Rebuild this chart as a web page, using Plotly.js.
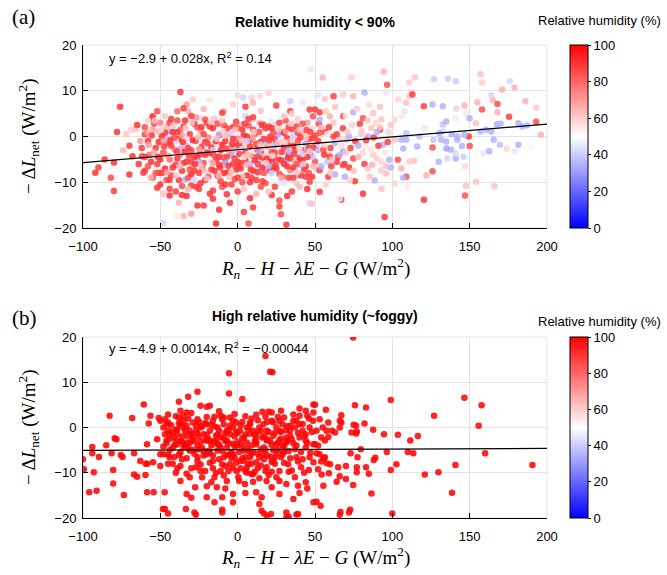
<!DOCTYPE html>
<html><head><meta charset="utf-8">
<script src="https://cdn.plot.ly/plotly-3.0.1.min.js"></script>
<style>html,body{margin:0;padding:0;background:#fff}#chart{width:667px;height:575px}</style>
</head><body><div id="chart"></div>
<script>
// ---------------- data ----------------
const xTicks = [-100, -50, 0, 50, 100, 150, 200];
const yTicks = [-20, -10, 0, 10, 20];
const rhTicks = [0, 20, 40, 60, 80, 100];
const fitA = [-2.9, 0.028];   // intercept, slope
const fitB = [-4.9, 0.0014];
const fitRange = [-100, 200];
const rhFoggy = 99;

// panel (a): [x, y, relative humidity]
const aSparse = [
[-76,6.5,90],[-37,9.7,90],[-78,1,90],[-92,-7.9,90],[-80,-11.9,88],[-82,-9,85],[-90,-6.8,88],[-80,-5.7,90],[-70,-8.3,90],[-61,-7.9,88],
[-55,4.4,90],[-68,-4.3,90],[-62,-4.3,85],[-69,1.5,60],[-66,1.6,62],[-51,-7.9,90],[-55,-9,90],[-44,-12.9,90],[-44,-11.4,88],[-36,-10.8,85],
[-30,-10.7,88],[-26,-15.1,90],[-22,-15.1,88],[-14,-19,92],[-39,-17.4,55],[-35,-17.4,65],[-30,-16.9,70],[-16,-13.6,90],[-7,-12.6,90],[4,-16.5,88],
[7,-19,85],[31.5,-19.3,90],[46.5,-14.6,42],[27,-15.3,88],[27,-14,85],[-48,-18.9,42],[-55,4,88],[-39,5.5,80],[-32,5.5,65],[-25,4,60],
[-21,3.7,85],[-33,7,70],[-29,8.1,60],[-9,5.5,65],[3.6,8.5,42],[9,8.5,60],[14.4,8.8,58],[10,7.4,65],[22,3.3,45],[34,7.7,40],
[34,5.5,88],[46.5,5.9,88],[47.6,14.7,55],[52,9.2,45],[39,3.7,40],[48.7,4.4,85],[10,3.7,42],[2.6,2.6,65],[-7,0.4,35],[-4,-4,32],
[-12.5,-4.4,30],[-34,-9.4,35],[-37,-2.6,35],[-44,1.1,35],[-51,1.1,65],[17.6,-7,35],[16,-5.1,38],[13,-7,42],[23,-5.5,35],[27,-3.7,32],
[31.5,-5.1,30],[39,-8.5,35],[40,-11,65],[46.5,-9.9,88],[51,-1.8,40],[27,-10.3,45],
[-72,0.5,62],[-70,-2,88],[-65,2.5,90],[-63,-1,70],[-60,0.5,88],[-58,-6.5,85],[-64,-6,90],[-86,-5,90],[-74,-3,65]
];
const aCore = [
[-60,2,85],[-58,-1,90],[-57,-4,80],[-55,1.5,70],[-53,-2.5,90],[-52,-6,88],[-50,3,75],[-49,0,90],[-48,-3.5,85],[-47,-7,92],
[-46,2,65],[-45,-1.5,88],[-44,-5,80],[-43,-8.5,90],[-42,1,90],[-41,-2.8,70],[-40,-6.2,88],[-39,3.5,85],[-38,-0.5,92],[-37,-4,75],
[-36,-7.5,90],[-35,2.2,88],[-34,-1.8,65],[-33,-5.5,90],[-32,-9,85],[-31,0.5,90],[-30,-3,88],[-29,-6.8,72],[-28,2.8,90],[-27,-1,85],
[-26,-4.5,92],[-25,-8,88],[-24,1.2,68],[-23,-2.2,90],[-22,-5.8,85],[-21,-9.5,90],[-20,3,88],[-19,-0.2,75],[-18,-3.6,90],[-17,-7.2,88],
[-16,1.8,90],[-15,-1.6,62],[-14,-5,90],[-13,-8.6,85],[-12,0.3,88],[-11,-3,90],[-10,-6.4,70],[-9,2.5,85],[-8,-1,90],[-7,-4.4,88],
[-6,-7.8,90],[-5,0.8,65],[-4,-2.5,88],[-3,-6,90],[-2,-9.3,85],[-1,3.2,88],[0,-0.5,75],[1,-3.8,90],[2,-7,88],[3,1.5,90],
[4,-2,60],[5,-5.2,88],[6,-8.5,90],[7,2.4,85],[8,-0.8,88],[9,-4.2,72],[10,-7.5,90],[11,0.6,90],[12,-2.8,85],[13,-6,88],
[14,3,65],[15,-1.2,90],[16,-4.6,88],[17,-8,85],[18,1.8,90],[19,-2.2,70],[20,-5.6,90],[21,0,88],[22,-3.4,85],[23,-6.8,90],
[24,2.6,60],[25,-1.4,88],[26,-4.8,90],[27,-8.2,85],[28,1,88],[29,-2.6,65],[30,-6,90],[31,3.5,85],[32,-0.4,90],[33,-4,88],
[34,-7.4,75],[35,1.6,88],[36,-2,90],[37,-5.4,62],[38,2.2,88],[39,-1,85],[40,-4.6,90],[41,-8.5,88],[42,0.5,65],[43,-3,88],
[44,-6.5,90],[45,3,70],[46,-0.6,88],[47,-4,85],[48,1.8,58],[49,-2.4,90],[50,-5.5,85],
[-58,3.5,60],[-54,-3.5,68],[-50,-5,90],[-46,-9.5,85],[-43,3.8,88],[-40,-1,60],[-37,1.5,80],[-34,-3.2,90],[-30,-8.2,92],[-27,4.2,70],
[-24,-3.8,88],[-21,-1.2,92],[-18,-5,55],[-15,3.8,90],[-12,-4.5,88],[-9,-8,92],[-6,-2.8,60],[-3,2,90],[0,-5.5,88],[3,-8.8,65],
[6,0,90],[9,-3,55],[12,-9.5,88],[15,2.5,90],[18,-4,58],[21,-7.5,90],[24,-0.5,88],[27,-3.8,55],[30,0.8,92],[33,-9,88],
[36,-6.8,90],[39,3.8,58],[42,-5,88],[45,-2.5,60],[48,-8.8,90],
[-45,-0.5,38],[-33,-2,40],[-25,-5.5,35],[-20,-1.8,42],[-12,0.5,35],[-8,-5.5,30],[-4,1,42],[2,-2.5,38],[8,-6,35],[12,2,45],
[18,-1,35],[22,-8,40],[26,0.5,32],[32,-2.8,35],[36,0.2,40],[40,-6.2,35],[44,-1.5,35],[48,-4.5,38],[-15,4,45],[5,4.5,42],
[-28,-9.5,42],[30,-10,45],
[-52,5.5,85],[-47,4.5,62],[-35,6.2,88],[-22,6,65],[-10,5.2,88],[-3,7,60],[5,6.5,88],[15,5.6,62],[25,6.8,88],[35,5,60],
[-18,8,55],[0,9,58],[20,9.5,60],[42,7.5,45],
[-50,-10.5,90],[-40,-12,88],[-33,-13,92],[-25,-11.5,88],[-18,-12.5,90],[-10,-11,85],[-5,-14.5,90],[0,-12,88],[8,-13.5,90],[15,-11,85],
[22,-12.8,90],[35,-12,88],[45,-11.5,90],[-38,-14.5,65],[-12,-16,90],[10,-15.5,88],[28,-17,85]
];
const aCoreDense = [
[-62,-2.5,88],[-59,0.8,75],[-56,-5.5,90],[-54,2.8,85],[-51,-1.2,92],[-49,-8,88],[-47,0.8,90],[-45,-4.2,72],[-44,3,88],[-42,-6.8,90],
[-41,-0.2,85],[-39,-4.8,90],[-38,-9.5,88],[-36,0.2,70],[-35,-5.8,88],[-34,3.5,90],[-32,-2.5,88],[-31,-7.2,85],[-29,-0.8,92],[-28,-4.4,90],
[-27,-11,88],[-26,2,85],[-25,-2.8,72],[-23,-7,90],[-22,0.5,88],[-21,-4,90],[-19,-8.8,85],[-18,2.2,90],[-17,-2.4,88],[-16,-5.8,70],
[-14,-1,90],[-13,2.8,85],[-12,-6.2,90],[-11,-9.8,88],[-10,-1.8,92],[-9,-4.6,85],[-7,1.8,88],[-6,-6.4,90],[-5,-3.2,72],[-4,-10.5,88],
[-3,-0.5,90],[-2,-4.8,88],[-1,-7.2,90],[0,1.8,85],[1,-1.5,90],[2,-5.8,88],[3,-10,85],[4,0.2,92],[5,-3.5,90],[6,-6.2,65],
[7,3.8,88],[8,-2.2,90],[9,-9,88],[10,-0.3,70],[11,-5.2,90],[12,-1.6,88],[13,-7.8,90],[14,1,85],[15,-3.2,92],[16,-6.8,90],
[17,-0.5,88],[18,-10.2,85],[19,-4.8,90],[20,2.2,88],[21,-2,62],[22,-5,90],[23,0.8,85],[24,-3.5,88],[25,-7,90],[26,-1.2,65],
[27,3,88],[28,-5.2,90],[29,-8.8,85],[30,-2.2,88],[31,1.2,70],[32,-6.5,90],[33,-1.8,85],[34,-4.8,88],[35,-0.8,62],[36,-9,88],
[37,-3,90],[38,-6,85],[39,0.8,88],[40,-2.8,60],[41,-5,90],[42,2.8,85],[43,-7.2,88],[44,-0.2,62],[45,-4.5,90],[46,-8,85],
[47,1,88],[49,-6.5,65],[50,0.2,88],[-60,-4.5,90],[-57,1,62],[-53,-8,85],[-48,-1,70],[-43,-2,88],[-39,1,90],[-33,-0.5,58],
[-30,-5.5,88],[-24,-6.5,62],[-20,-3.5,88],[-15,-7.5,90],[-8,0.2,62],[-1,-2,88],[4,-4.5,58],[10,1.5,88],[16,-2.5,60],[22,1.8,90],
[28,-0.8,58],[33,2,88],[40,1.5,62],[46,-2.5,88],
[-2,-3,38],[14,-3.5,35],[24,-2,38],[34,-3.5,35],[42,-3.8,40],[52,-3,35],[58,-5.5,38],[20,-6.5,35],[6,-1,40],[-16,-3,40]
];
const aCoreFill = [
[-57.5,-1.8,70],[-55.5,0.2,88],[-53.5,3.5,62],[-51.5,-4.5,90],[-49.5,1.5,60],[-47.5,-2.2,88],[-45.5,-7.8,70],[-43.5,-0.8,90],[-41.5,2.4,62],[-39.5,-3.2,88],
[-37.5,-6.5,65],[-35.5,-1.2,90],[-33.5,1.8,60],[-31.5,-4.2,88],[-29.5,3,62],[-27.5,-6,90],[-25.5,-0.2,65],[-23.5,2,90],[-21.5,-7.5,62],[-19.5,-1.5,88],
[-17.5,3.2,60],[-15.5,-4,88],[-13.5,-0.5,62],[-11.5,-6.8,90],[-9.5,1.2,60],[-7.5,-2.6,88],[-5.5,-8.8,62],[-3.5,-1.6,90],[-1.5,1.5,62],[0.5,-6.5,88],
[2.5,-0.8,62],[4.5,2.8,88],[6.5,-3.8,62],[8.5,-7.2,88],[10.5,1,60],[12.5,-4.4,88],[14.5,-1.8,62],[16.5,2.6,88],[18.5,-5.8,62],[20.5,-0.8,88],
[22.5,-4.2,60],[24.5,-6.2,88],[26.5,1.6,62],[28.5,-3.4,88],[30.5,-1.2,60],[32.5,-4.6,88],[34.5,2.8,62],[36.5,-3.8,88],[38.5,-7.8,62],[40.5,-0.2,88],
[42.5,-6,62],[44.5,1.4,88],[46.5,-3.2,60],[48.5,-0.4,88],[50.5,-7,62],[52.5,2.8,88],[54.5,-2.8,60],[56.5,1,88],[58.5,-4,62],[60.5,-6.5,88],
[-60,-7.5,88],[-56,-9,65],[-52,-11.2,90],[-48,-12.5,62],[-44,-9.5,88],[-40,-8.5,62],[-36,-12.8,90],[-32,-11.5,65],[-28,-7.5,88],[-24,-10.2,90],
[-20,-9.2,62],[-16,-11.8,88],[-12,-8.5,65],[-8,-10.5,90],[-4,-7.8,62],[0,-9,88],[4,-11.5,62],[8,-10,90],[12,-12.5,65],[16,-9.8,88],
[20,-12,62],[24,-11,88],[28,-9,65],[32,-13,90],[38,-10.2,62],[44,-8.8,88],[-30,4.5,88],[-10,3.5,62],[10,4.2,88],[30,4.5,62]
];
const aMid = [
[55,12.9,65],[73.6,12.9,60],[94.4,14.2,65],[96.6,11.3,85],[82,9.6,35],[74.7,8.8,65],[68.2,9.2,60],[62,8.8,88],[56.4,8.2,62],[51,8.8,45],
[74.7,5.3,35],[68.2,4.4,85],[81,4,85],[93,3.7,62],[87.6,5.1,62],[53,5.3,88],[59.7,4.4,65],[50,5.9,88],[53,3.7,35],[62,0,88],
[55.4,-2.9,85],[59.7,-4.4,88],[65,-4.4,88],[68,-6.3,85],[62.9,-1.5,35],[70.4,-0.7,62],[77,-1.5,62],[82,-2.2,55],[84.3,0,35],[86.5,1.8,62],
[80,0.7,62],[53,-7.4,88],[58.6,-8.8,88],[53,-12.1,90],[48,-14.7,62],[67,-13.8,88],[66,-13.6,45],[92,1.5,88],[97,1.1,45],[96,9.6,45],
[98,-5.1,35],[88.6,-9.6,35],[85.4,-8.8,62],[81,-12.5,90],[75.8,-9.8,88],[72.5,-9.6,60],[69.3,-8.8,35],[62.9,-8.3,35],[68.2,-3.3,32],[74.7,-4.8,85],
[87.6,-4,60],[99,-6.8,35],[96,-8.1,62],[92.5,-7.4,60],[93,-11.4,62],[95,-17.6,90],
[52,-1,88],[54,2,65],[56,-4,90],[58,0.5,55],[60,-2.5,88],[62,3,62],[64,-5.5,90],[66,-0.5,60],[68,1.8,88],[70,-3.5,62],
[72,-6.8,88],[74,2.5,58],[76,-1,88],[78,-4.5,65],[80,1.2,60],[82,-6,88],[84,3.5,62],[86,-2.8,55],[88,-0.2,88],[90,-4.8,60],
[92,2,62],[94,-1.8,35],[96,-6.5,62],[98,0.8,58],[54,-6.5,35],[60,-8,62],[66,-4,35],[72,0,35],[78,-2,35],[84,-7,62],
[90,1,35],[95,-3.5,55],[57,5.5,60],[63,6.5,62],[70,4.5,55],[77,6,60],[85,7,58],[92,6.5,62],
[53,0.8,85],[56,-1.8,60],[59,2,88],[61,-5,62],[64,0.5,88],[67,-2,58],[69,-6,88],[71,1,62],[73,-2.5,88],[75,-7.5,62],
[79,2.8,88],[81,-3.5,58],[83,-0.8,88],[87,-6.2,65],[89,3,58],[91,-2,88],[93,-5.5,58],[97,-1.2,88],[99,2.5,62],[57,-10.5,60]
];
const aRight = [
[111,11.8,60],[114.6,12.9,62],[112,9.6,60],[127,12.5,40],[136,12.6,40],[141,12.1,40],[144,13.8,50],[157,13.6,62],[158,11.8,60],[152,10.3,52],
[154,10.3,50],[176,12.1,42],[179,10.7,65],[171,10.3,65],[164,9,42],[165,7.9,65],[168,7.1,85],[186,7.7,65],[193,6.3,60],[175.5,4.3,88],
[168,5.3,65],[158,5.9,85],[155,7.5,65],[146.6,6.8,65],[147.6,4.9,55],[150,4,35],[154,2.9,62],[157,1.1,35],[160.5,1.5,35],[164,1.1,35],
[167.6,2.7,35],[170,2.8,35],[181.5,2.9,35],[184,2.2,35],[187,2.4,35],[193,3.2,85],[196,0.4,65],[189.5,-2.4,48],[181.5,-1.8,35],[179,-3.3,45],
[174,-2.7,58],[169.5,-1.8,38],[165.5,-0.7,35],[162.7,-3.2,35],[158.8,-3.7,45],[166,-10.9,62],[154,-9.9,62],[147.6,-10.8,62],[147,-12.9,85],[150,-2.1,85],
[149.4,0,88],[146.6,0.4,35],[145,-2.1,35],[142,0,35],[141,-4.8,35],[138,-2.9,35],[135,-2.6,32],[134.8,-1.1,35],[131.5,-0.7,35],[132.6,1.1,42],
[132.6,2.6,38],[134.8,3.3,35],[130.5,0.7,35],[126.6,-0.7,38],[126,-2.4,85],[130,-5.5,35],[135.5,-4.8,42],[141,-3.7,42],[126,-7.6,85],[122,-8.5,65],
[120.4,-13.8,90],[111,-5.5,60],[114,-5.3,62],[116,-2.2,35],[117.6,0,38],[120.8,1.8,45],[126,7,35],[132.6,6.6,35],[141.5,6.1,60],[141,4,55],
[147,-6.5,58],[146,-4.4,40],[142,-0.7,35],[138.4,0.5,35],[109,-0.7,35],[105.8,-0.7,35],[109,0.7,38],[101.5,-0.7,62],[107,-2.6,35],[103.6,-5.1,85],
[105.8,-7,65],[109,-8.8,85],[107,-9,35],[101.5,-10.3,58],[101.5,3.7,58],[106,4.4,55],[108,5.5,45],[109,7.4,62],[111,8.8,60],[103.6,8.1,58],
[113,9.2,88],[120.4,6.6,88],[110,-10.8,55]
];

// panel (b): [x, y]
const bLeft = [
[-100,-7.0],[-99.4,-9.2],[-94,-4.3],[-94,-5.7],[-93,-9.9],[-91.2,-14],[-96,-14.3],[-89.7,-6.5],[-85,-3.9],[-82.8,2.6],
[-81.5,-5.7],[-79.5,-2.4],[-78.4,-2.6],[-80.5,-9.4],[-80.5,-12.4],[-75.5,-6.1],[-74.4,-6.5],[-73.6,-14.9],[-68.2,2.1],[-67,-5.7],
[-67,-10.4],[-65,-10.9],[-63,-7.4],[-60.7,5.1],[-59.5,-8],[-58.4,-8],[-58.6,-3.7],[-56.4,2.6],[-57.5,0.9],[-59.6,-10.5],
[-58.6,-14.3],[-54.3,-14.3],[-52.1,-2.6],[-51,2.1],[-50,-8.5],[-50,-5.9],[-54.7,-7.7],[-48.3,-18],[-47.2,-14.3]
];
const bCore = [
[-50,1.5],[-47,1.8],[-45,1.1],[-48,0],[-45,-0.7],[-44,-1.5],[-41,-2.2],[-39,-0.4],[-37,0.7],[-38,2.2],
[-35,1.5],[-33,0.4],[-31,-0.7],[-29,1.1],[-26,1.8],[-24,0],[-22,-1.5],[-20,0.7],[-18,-0.7],[-16,1.5],
[-13,0],[-11,-2.2],[-9,0.7],[-7,-0.7],[-5,-1.5],[-3,0],[-1,1.1],[1.5,-0.7],[4,-2.2],[6,0],
[8,0.7],[10,-0.7],[12,-2.2],[14,0],[16.5,0.7],[18.7,-0.7],[22,1.5],[25,0],[27,-0.7],[29,0.7],
[31.5,-2.2],[33.7,-0.7],[37,0],[40,0.7],[42,-0.7],[44,-1.5],[46.5,0],[48.7,1.5],
[-38,5.7],[-32,6.8],[-26,7.9],[-5.6,7.5],[3,6.3],[-20,4.6],[-24,4.8],[-18,4.8],[16,3.5],[22,3.3],
[28,3.7],[36,1.5],[44,3.7],[49,5.1],[-37,3.7],[-45,2.9],[-33,3.3],[-11,2.6],[-3,1.5],[-9,2.2],
[8,1.1],[23,1.1],[40,2.6],[36,2.9],
[-46,-2.9],[-39,-3.7],[-33,-3.3],[-26,-4],[-20,-2.9],[-13,-3.7],[-7,-2.9],[-0.6,-4],[6,-3.3],[12,-3.7],
[18.7,-2.9],[25,-3.7],[31.5,-3.3],[38,-4],[44,-2.9],[49,-3.7],
[-48,-5.9],[-44,-6.6],[-37,-8.5],[-35,-4.4],[-31,-5.1],[-26,-6.6],[-24,-9.6],[-20,-5.9],[-16,-7.4],[-13,-5.1],
[-11,-9.6],[-9,-6.6],[-7,-4.4],[-5,-8.1],[-3,-5.9],[-0.6,-9.6],[1.5,-7.4],[4,-5.1],[6,-8.8],[8,-6.6],
[10,-10.3],[12,-7.7],[16.5,-5.9],[18.7,-8.8],[23,-7.4],[27,-9.6],[29,-5.9],[32.6,-8.1],[38,-6.6],[41,-8.8],
[46.5,-6.6],[49,-7.7],
[-37,-11.8],[-33,-14.7],[-31,-11],[-27.5,-13.2],[-23,-11],[-20,-15.4],[-17,-12.1],[-13.5,-13.2],[-10,-15.4],[-7,-11.8],
[-3,-14.7],[0.4,-11],[4.7,-12.5],[9,-10.3],[12,-14.3],[15.5,-15.4],[18.7,-11.8],[22,-13.2],[27,-14.7],[31.5,-12.5],
[36,-15.8],[39,-12.9],[44,-12.1],[49,-16.5],[14,-16.9],[31.5,-18.8],
[-47,-18],[-33.5,-18],[-28,-18.8],[-10,-18.2],[-3,-16.5],[15.5,-18.4],[21.5,-19.1],[31.5,-19.9],[39,-19.1],
[-45,-19],[-27,-19.3],[-10,-18.8],[17,-19],[19,-19.5],[33,-19.7],[38,-19.2],
[-42,-1],[-40,-3],[-38,1],[-36,-2],[-34,-4],[-32,2],[-30,-1.5],[-28,-3],[-27,0.5],[-25,-2],
[-23,-4.5],[-21,1],[-19,-2.5],[-17,-4],[-15,0.2],[-14,-1.8],[-12,-3.8],[-10,1.8],[-8,-1.2],[-6,-3.5],
[-4,-5.5],[-2,-2],[0,-3.2],[2,0.5],[3,-4.5],[5,-1.5],[7,-5.2],[9,2],[11,-3],[13,-1],
[15,-4.8],[17,-2],[19,1.2],[21,-3],[23,-5],[24,-1.2],[26,2.3],[28,-2.5],[30,-4.2],[32,0.3],
[34,-1.8],[36,-3.5],[38,1.5],[40,-2.2],[42,0.8],[44,-4.4],[46,2],[48,-1],
[-46,-3.5],[-44,-5],[-41,-6.5],[-37,-5.5],[-33,-6.8],[-29,-5],[-26,-7.5],[-22,-6.2],[-18,-5.5],[-16,-9],
[-12,-7],[-8,-8.5],[-5,-6],[-1,-7.8],[3,-6.8],[6,-10],[9,-5.8],[13,-9],[17,-7],[20,-10.5],
[24,-8],[28,-6.5],[35,-9.5],[39,-7.5],[43,-10]
];
const bCoreDense = [
[-43,0.5],[-41,-4],[-39,-1.5],[-37,-3],[-35,0],[-33,-1.8],[-31,-3.5],[-29,-2],[-27,-0.6],[-25,-4.8],
[-23,0.2],[-21,-2.8],[-19,-5.2],[-17,0.6],[-15,-3],[-13,-1.6],[-11,-4.4],[-9,-2.2],[-7,-6],[-5,0.4],
[-3,-3.6],[-1,-1],[1,-5.4],[3,-2.4],[5,-6.6],[7,-0.2],[9,-4],[11,-1.6],[13,-5.8],[15,-0.8],
[17,-4.4],[19,-2.6],[21,-6.4],[23,-1.8],[25,-5.6],[27,-2.8],[29,-4],[31,-0.6],[33,-5.2],[35,-2.6],
[37,-4.8],[39,-1.2],[41,-5.4],[43,-2],[45,-3.4],[47,-5.6],[-47,-1.5],[-45,-6],[-42,-8],[-36,-7],
[-30,-9],[-24,-8.2],[-18,-7.8],[-14,-10],[-10,-8.2],[-6,-9.6],[-2,-6.6],[2,-9],[7,-8],[11,-9.8],
[15,-8.4],[19,-6.2],[22,-9.8],[26,-5],[30,-7.8],[34,-6.8],[37,-11],[42,-7],[46,-9.4],[-40,2.5],
[-30,3.2],[-20,2.3],[-12,3.6],[-2,3],[5,2.5],[12,2.8],[20,3.5],[30,2.2],[40,4.2],[45,2.6],
[-8,-13.5],[-20,-13],[5,-14.5],[25,-11],[-30,-15.5],[40,-14.5],[10,-12],[-15,-16.5],[-40,-10],[45,-13.5]
];
const bCoreFill = [
[-44,-2.5],[-42,-4.5],[-40,-0.5],[-38,-6],[-36,-3.2],[-34,-0.8],[-32,-4.6],[-30,-2.8],[-28,-5.8],[-26,-1.2],
[-24,-3.2],[-22,-5.2],[-20,-1.6],[-18,-3],[-16,-6.2],[-14,-3.2],[-12,-0.8],[-10,-5.2],[-8,-3],[-6,-0.6],
[-4,-6.8],[-2,-4.2],[0,-1.2],[2,-3.6],[4,-7.4],[6,-4.6],[8,-1.4],[10,-5.4],[12,-3.2],[14,-6.6],
[16,-2.2],[18,-5],[20,-1],[22,-3.8],[24,-6.6],[26,-3.4],[28,-1],[30,-5.4],[32,-3],[-45,-8],
[-39,-9],[-33,-10.2],[-27,-8.8],[-21,-9.6],[-15,-11],[-9,-10.6],[-3,-9],[1,-11.8],[5,-9.6],[9,-8],
[14,-11.2],[18,-9.6],[22,-7.6],[27,-11.8],[33,-9.8],[-35,2.6],[-25,1.2],[-15,2.4],[-5,2.2],[3,1.2],
[13,1.6],[18,2.4],[27,1.4],[34,0.4],[-48,-4.2],[-46,0.8]
];
const bRight = [
[18,15.8],[21,12.3],[22.5,12.2],[-5.6,12],[74.7,19.9],
[50,5],[57,3.9],[75.8,4.9],[83,4.4],[67,2.7],[66,1.5],[75,0.6],[76.5,0.4],[77,-0.9],[76.6,-1.3],
[82,0.9],[87.6,-0.5],[94.6,-1.5],[99,6.1],[103.6,-1.6],[111.6,-2.9],[116.5,-1.9],[127,2.6],[146.6,6.6],[157.7,4.9],
[155.8,0.4],[160,-5.7],[190.6,-8.3],[140.8,-8.3],[129.8,-9.9],[121,-10.4],[138.6,-14.4],[110,-5.4],[113.6,-5.7],[96.4,-5.4],
[89,-6.7],[88,-7.2],[102.6,-8.1],[99,-9.4],[86.5,-14.6],[100,-19],[72.7,-18.2],[66.5,-18.7],[79.6,-4.8],[73,-5.7],
[77.5,-6.6],[83,-8.8],[77,-8.8],[77,-9.9],[84.8,-10.2],[70,-8.5],[65,-8.8],[66,-10.8],[70,-11.4],[64,-12],
[74.7,-12.7],[59,-10.1],[54.3,-10.4],[55.4,-12.9],[51,-16.4],[53.6,-17.3],[66,-19.3],[72,-18.8],
[49,3.3],[53,1.8],[58.6,1.1],[55,0],[51,-0.7],[57.5,-0.7],[61,-0.7],[54,-2.2],[56.4,-2.9],[50,-3.7],
[52,-4],[58.6,-2.1],[63,-1.1],[67,1.1],[66,0],[73.6,-1.1],[59.7,-8.1],[57.5,-7.9],[55.4,-6.8],[54,-7.5],
[52,-9.2],[56.4,-6.6],[53,-5.9],[51,-5.7]
];

// ---------------- build ----------------
const col = (rows, i) => rows.map(r => r[i]);
const aAll = aSparse.concat(aCore, aCoreDense, aCoreFill, aMid, aRight);
const bAll = bLeft.concat(bCore, bCoreDense, bCoreFill, bRight);
const scale = [[0,'rgb(0,0,255)'],[0.5,'rgb(255,255,255)'],[1,'rgb(255,0,0)']];
const FONT = 'Liberation Sans, Arial, Helvetica, sans-serif';
const SERIF = 'Liberation Serif, Times New Roman, serif';
const W = 667, H = 575;
const px = v => v / W, py = v => 1 - v / H;

function cbar(topPx, botPx) {
  return {
    x: px(570), xanchor: 'left', xpad: 0, ypad: 0,
    y: py(topPx), yanchor: 'top', len: (botPx - topPx) / H, lenmode: 'fraction',
    thickness: 18, thicknessmode: 'pixels',
    outlinewidth: 1, outlinecolor: '#000',
    tickvals: rhTicks, ticks: 'outside', ticklen: 3, tickcolor: '#000',
    tickfont: {family: FONT, size: 13, color: '#000'}
  };
}

const traceA = {
  type: 'scatter', mode: 'markers', x: col(aAll, 0), y: col(aAll, 1),
  xaxis: 'x', yaxis: 'y', hoverinfo: 'skip',
  marker: {size: 6.5, opacity: 0.85, color: col(aAll, 2), colorscale: scale, cmin: 0, cmax: 100,
    showscale: true, colorbar: cbar(45, 228), line: {width: 0}}
};
const traceB = {
  type: 'scatter', mode: 'markers', x: col(bAll, 0), y: col(bAll, 1),
  xaxis: 'x2', yaxis: 'y2', hoverinfo: 'skip',
  marker: {size: 6.5, opacity: 0.88, color: bAll.map(() => rhFoggy), colorscale: scale, cmin: 0, cmax: 100,
    showscale: true, colorbar: cbar(337, 518), line: {width: 0}}
};
const fitLineA = {type: 'scatter', mode: 'lines', x: fitRange, y: fitRange.map(v => fitA[0] + fitA[1] * v),
  xaxis: 'x', yaxis: 'y', line: {color: '#000', width: 1.2}, hoverinfo: 'skip', showlegend: false};
const fitLineB = {type: 'scatter', mode: 'lines', x: fitRange, y: fitRange.map(v => fitB[0] + fitB[1] * v),
  xaxis: 'x2', yaxis: 'y2', line: {color: '#000', width: 1.2}, hoverinfo: 'skip', showlegend: false};

function xax(anchor) {
  return {domain: [px(83), px(547)], anchor: anchor, range: [-100, 200], tickvals: xTicks,
    showline: true, linecolor: '#000', linewidth: 1, mirror: false,
    ticks: 'inside', ticklen: 5, tickcolor: '#000', ticklabelstandoff: 6,
    showgrid: true, gridcolor: '#e3e3e3', gridwidth: 1, zeroline: false, automargin: false,
    tickfont: {family: FONT, size: 13, color: '#000'}};
}
function yax(anchor, topPx, botPx) {
  return {domain: [py(botPx), py(topPx)], anchor: anchor, range: [-20, 20], tickvals: yTicks,
    showline: true, linecolor: '#000', linewidth: 1, mirror: false,
    ticks: 'inside', ticklen: 5, tickcolor: '#000', ticklabelstandoff: 3,
    showgrid: true, gridcolor: '#e3e3e3', gridwidth: 1, zeroline: false, automargin: false,
    tickfont: {family: FONT, size: 13, color: '#000'}};
}

function ann(text, x, y, opts) {
  return Object.assign({text: text, x: px(x), y: py(y), xref: 'paper', yref: 'paper', showarrow: false,
    xanchor: 'center', yanchor: 'middle', font: {family: FONT, size: 13, color: '#000'}}, opts || {});
}
const yTitle = '\u2212 \u0394<i>L</i><sub>net</sub> (W/m<sup>2</sup>)';
const xTitle = '<i>R</i><sub><i>n</i></sub> \u2212 <i>H</i> \u2212 <i>\u03bbE</i> \u2212 <i>G</i> (W/m<sup>2</sup>)';

const annotations = [
  ann('(a)', 10, 17, {xanchor: 'left', font: {family: SERIF, size: 21, color: '#000'}}),
  ann('<b>Relative humidity < 90%</b>', 315, 22, {font: {family: FONT, size: 14, color: '#000'}}),
  ann('Relative humidity (%)', 599, 20, {font: {family: FONT, size: 13, color: '#000'}}),
  ann('y = \u22122.9 + 0.028x, R<sup>2</sup> = 0.14', 107, 58, {xanchor: 'left', font: {family: FONT, size: 13, color: '#000'}}),
  ann(xTitle, 315, 268, {font: {family: SERIF, size: 19, color: '#000'}}),
  ann(yTitle, 28, 136, {textangle: -90, font: {family: SERIF, size: 19, color: '#000'}}),
  ann('(b)', 10, 318, {xanchor: 'left', font: {family: SERIF, size: 21, color: '#000'}}),
  ann('<b>High relative humidity (~foggy)</b>', 315, 316, {font: {family: FONT, size: 14, color: '#000'}}),
  ann('Relative humidity (%)', 599, 321, {font: {family: FONT, size: 13, color: '#000'}}),
  ann('y = \u22124.9 + 0.0014x, R<sup>2</sup> = \u22120.00044', 107, 348, {xanchor: 'left', font: {family: FONT, size: 13, color: '#000'}}),
  ann(xTitle, 315, 557, {font: {family: SERIF, size: 19, color: '#000'}}),
  ann(yTitle, 28, 427, {textangle: -90, font: {family: SERIF, size: 19, color: '#000'}})
];

const shapes = [
  {type: 'rect', xref: 'x domain', yref: 'y domain', x0: 0, x1: 1, y0: 0, y1: 1, line: {color: '#e3e3e3', width: 1}, layer: 'below'},
  {type: 'rect', xref: 'x2 domain', yref: 'y2 domain', x0: 0, x1: 1, y0: 0, y1: 1, line: {color: '#e3e3e3', width: 1}, layer: 'below'}
];

const layout = {
  width: W, height: H, margin: {l: 0, r: 0, t: 0, b: 0},
  paper_bgcolor: '#fff', plot_bgcolor: '#fff', showlegend: false,
  xaxis: xax('y'), yaxis: yax('x', 45, 228),
  xaxis2: xax('y2'), yaxis2: yax('x2', 337, 518),
  annotations: annotations, shapes: shapes
};

Plotly.newPlot('chart', [traceA, traceB, fitLineA, fitLineB], layout, {displayModeBar: false, staticPlot: true});
</script>
</body></html>
